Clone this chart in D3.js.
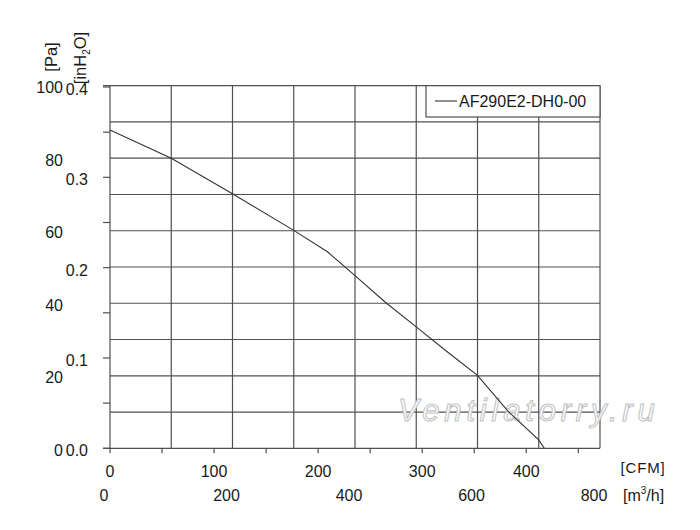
<!DOCTYPE html>
<html>
<head>
<meta charset="utf-8">
<script src="https://cdn.jsdelivr.net/npm/d3@7"></script>
<style>
  html, body { margin: 0; padding: 0; background: #fff; }
  svg text { font-family: "Liberation Sans", Arial, sans-serif; fill: #1a1a1a; }
</style>
</head>
<body>
<svg id="chart" width="700" height="530"></svg>
<script>
// ---- data ----
const seriesName = "AF290E2-DH0-00";
const flowM3h = [0, 100, 200, 300, 355, 400, 450, 500, 550, 600, 650, 700, 709];
const pressurePa = [87.8, 80.0, 70.2, 60.1, 54.2, 47.6, 40.2, 33.5, 26.7, 20.1, 10.2, 2.3, 0];
const paTicks = [0, 20, 40, 60, 80, 100];
const inH2OTicks = [0.0, 0.1, 0.2, 0.3, 0.4];
const cfmTicks = [0, 100, 200, 300, 400];
const m3hTicks = [0, 200, 400, 600, 800];
const watermark = "Ventilatorry.ru";

const PA_PER_INH2O = 249.0889;
const M3H_PER_CFM = 1.699;

const svg = d3.select("#chart");
const L = 110, R = 600, T = 85.7, B = 448.3;

const x = d3.scaleLinear().domain([0, 800]).range([L, R]);
const y = d3.scaleLinear().domain([0, 100]).range([B, T]);
const xCfm = d3.scaleLinear().domain([0, 800 / M3H_PER_CFM]).range([L, R]);
const yIn = d3.scaleLinear().domain([0, 100 / PA_PER_INH2O]).range([B, T]);

const gridColor = "#505050";

// grid
const grid = svg.append("g");
grid.selectAll("line.h").data(d3.range(0, 101, 10)).join("line")
  .attr("x1", d => (d === 0 || d === 100) ? L - 7 : L).attr("x2", R)
  .attr("y1", d => y(d)).attr("y2", d => y(d))
  .attr("stroke", gridColor).attr("stroke-width", 1.2);
grid.selectAll("line.v").data(d3.range(0, 801, 100)).join("line")
  .attr("x1", d => x(d)).attr("x2", d => x(d))
  .attr("y1", T).attr("y2", B)
  .attr("stroke", gridColor).attr("stroke-width", 1.2);

// left ticks (inH2O, every 0.05)
svg.append("g").selectAll("line").data(d3.range(0, 0.401, 0.05)).join("line")
  .attr("x1", L - 7).attr("x2", L)
  .attr("y1", d => yIn(d)).attr("y2", d => yIn(d))
  .attr("stroke", gridColor).attr("stroke-width", 1.2);

// bottom ticks (CFM, every 50)
svg.append("g").selectAll("line").data(d3.range(0, 451, 50)).join("line")
  .attr("x1", d => xCfm(d)).attr("x2", d => xCfm(d))
  .attr("y1", B).attr("y2", B + 5)
  .attr("stroke", gridColor).attr("stroke-width", 1.2);

// watermark
svg.append("text")
  .attr("x", 398).attr("y", 421)
  .attr("font-size", 31).attr("font-style", "italic")
  .attr("letter-spacing", 4.8)
  .style("fill", "#ffffff").style("stroke", "#c4c4c4").style("stroke-width", 1.1)
  .text(watermark);

// curve
const pts = flowM3h.map((f, i) => [f, pressurePa[i]]);
svg.append("path")
  .attr("d", d3.line().x(d => x(d[0])).y(d => y(d[1]))(pts))
  .attr("fill", "none").attr("stroke", "#333").attr("stroke-width", 1.1);

// y labels
svg.append("g").selectAll("text").data(paTicks).join("text")
  .attr("x", 63).attr("y", d => y(d) + 7.5)
  .attr("text-anchor", "end").attr("font-size", 16)
  .text(d => d);
svg.append("g").selectAll("text").data(inH2OTicks).join("text")
  .attr("x", 88).attr("y", d => yIn(d) + 8)
  .attr("text-anchor", "end").attr("font-size", 16)
  .text(d => d3.format(".1f")(d));

// x labels
svg.append("g").selectAll("text").data(cfmTicks).join("text")
  .attr("x", d => xCfm(d)).attr("y", 476.5)
  .attr("text-anchor", "middle").attr("font-size", 16)
  .text(d => d);
svg.append("g").selectAll("text").data(m3hTicks).join("text")
  .attr("x", d => x(d) - 6).attr("y", 500.5)
  .attr("text-anchor", "middle").attr("font-size", 16)
  .text(d => d);

// axis titles
svg.append("text").attr("x", 643).attr("y", 473)
  .attr("text-anchor", "middle").attr("font-size", 15).attr("letter-spacing", 0.8)
  .text("[CFM]");
const m3 = svg.append("text").attr("x", 623).attr("y", 500.5).attr("font-size", 16);
m3.append("tspan").text("[m");
m3.append("tspan").attr("font-size", 10).attr("dy", -7).text("3");
m3.append("tspan").attr("dy", 7).text("/h]");

svg.append("text")
  .attr("transform", "translate(57,57) rotate(-90)")
  .attr("text-anchor", "middle").attr("font-size", 16.5)
  .text("[Pa]");
const inh = svg.append("text")
  .attr("transform", "translate(86,58) rotate(-90)")
  .attr("text-anchor", "middle").attr("font-size", 16.5);
inh.append("tspan").text("[inH");
inh.append("tspan").attr("font-size", 10).attr("dy", 4).text("2");
inh.append("tspan").attr("dy", -4).text("O]");

// legend
const lg = svg.append("g");
lg.append("rect").attr("x", 426).attr("y", T).attr("width", R - 426).attr("height", 117 - T)
  .attr("fill", "#fff").attr("stroke", gridColor).attr("stroke-width", 1.2);
lg.append("line").attr("x1", 435).attr("x2", 457).attr("y1", 101).attr("y2", 101)
  .attr("stroke", "#333").attr("stroke-width", 1.1);
lg.append("text").attr("x", 459).attr("y", 107).attr("font-size", 16).text(seriesName);
</script>
</body>
</html>
